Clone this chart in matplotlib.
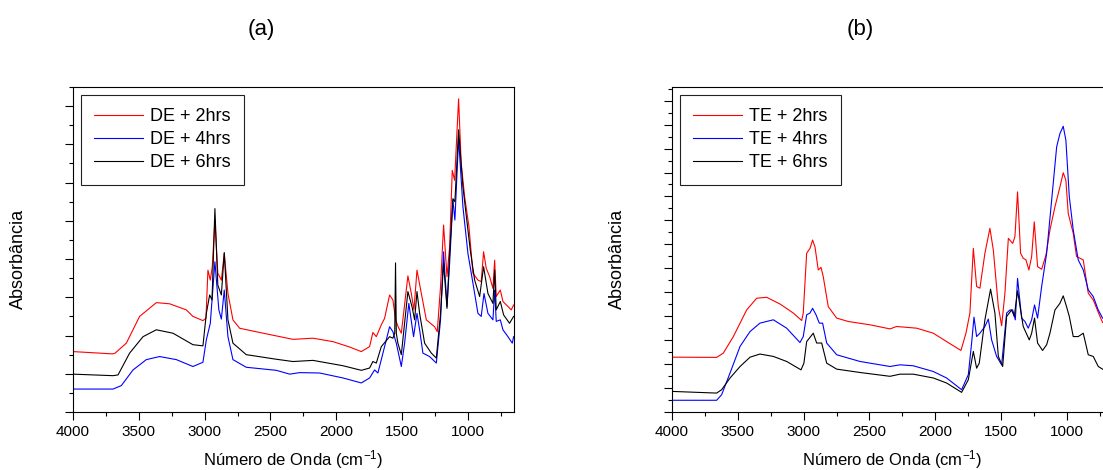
import numpy as np
import matplotlib
matplotlib.use('Agg')
import matplotlib.pyplot as plt
from matplotlib.ticker import MultipleLocator

plt.rcParams['font.family'] = ['Liberation Sans', 'DejaVu Sans']
plt.rcParams['mathtext.fontset'] = 'custom'
plt.rcParams['mathtext.rm'] = 'Liberation Sans'
plt.rcParams['mathtext.default'] = 'regular'

# (a) DE spectra, wavenumber (cm-1) vs absorbance (arb. units)
de2_x = [4000, 3700, 3680, 3595, 3494, 3367, 3266, 3139, 3089, 3013, 2990, 2975, 2957, 2942, 2922,
         2900, 2873, 2851, 2823, 2785, 2734, 2582, 2329, 2177, 2025, 1899, 1810, 1747, 1722, 1696,
         1658, 1633, 1595, 1570, 1549, 1530, 1506, 1456, 1430, 1410, 1387, 1354, 1316, 1253, 1233,
         1208, 1185, 1159, 1139, 1119, 1101, 1071, 1051, 1025, 992, 962, 924, 899, 881, 861, 835,
         810, 797, 785, 754, 734, 696, 671, 653]
de2_y = [1.58, 1.52, 1.54, 1.80, 2.50, 2.86, 2.83, 2.67, 2.50, 2.39, 2.45, 3.71, 3.45, 3.80, 5.02,
         3.63, 3.45, 4.15, 3.10, 2.41, 2.19, 2.08, 1.90, 1.93, 1.84, 1.70, 1.58, 1.71, 2.08, 1.97,
         2.28, 2.45, 3.06, 2.93, 2.41, 2.23, 2.06, 3.56, 3.10, 2.67, 3.71, 3.10, 2.41, 2.23, 2.10,
         3.28, 4.89, 3.54, 4.32, 6.32, 6.06, 8.19, 6.50, 5.63, 4.84, 3.63, 3.45, 3.41, 4.19, 3.76, 3.54,
         3.23, 3.97, 3.02, 3.19, 2.89, 2.76, 2.67, 2.80]

de4_x = [4000, 3696, 3633, 3544, 3443, 3342, 3215, 3089, 3013, 2987, 2957, 2922, 2892, 2873, 2851,
         2823, 2785, 2684, 2456, 2354, 2278, 2126, 1949, 1810, 1747, 1709, 1684, 1658, 1595, 1570,
         1544, 1506, 1481, 1449, 1413, 1387, 1367, 1342, 1291, 1240, 1208, 1185, 1159, 1139, 1114,
         1099, 1071, 1038, 1000, 962, 924, 899, 878, 848, 810, 797, 785, 754, 734, 696, 663, 653]
de4_y = [0.60, 0.60, 0.69, 1.10, 1.37, 1.45, 1.37, 1.19, 1.30, 1.89, 2.32, 3.93, 2.67, 2.43, 3.19,
         1.97, 1.37, 1.17, 1.09, 0.99, 1.03, 1.02, 0.89, 0.76, 0.89, 1.10, 1.02, 1.37, 2.23, 2.10,
         1.80, 1.19, 1.80, 2.84, 1.97, 2.58, 2.15, 1.54, 1.45, 1.28, 2.41, 4.19, 2.76, 3.89, 5.54,
         5.02, 7.15, 5.37, 4.15, 3.37, 2.58, 2.50, 3.10, 2.58, 2.41, 3.19, 2.37, 2.41, 2.15, 1.97, 1.80, 1.97]

de6_x = [4000, 3696, 3658, 3570, 3468, 3367, 3240, 3089, 3013, 2987, 2962, 2944, 2922, 2900, 2873,
         2851, 2823, 2785, 2684, 2456, 2329, 2177, 1949, 1810, 1747, 1722, 1696, 1658, 1595, 1570,
         1556, 1550, 1544, 1532, 1506, 1456, 1425, 1405, 1387, 1367, 1329, 1278, 1240, 1208, 1185,
         1159, 1139, 1114, 1099, 1071, 1038, 1000, 982, 949, 911, 881, 848, 810, 797, 785, 754, 729,
         684, 653]
de6_y = [0.99, 0.95, 0.97, 1.54, 1.97, 2.15, 2.06, 1.76, 1.73, 2.58, 3.06, 2.93, 5.32, 3.32, 3.06,
         4.17, 2.41, 1.80, 1.50, 1.38, 1.32, 1.35, 1.21, 1.09, 1.15, 1.32, 1.28, 1.71, 1.97, 1.93,
         2.06, 3.90, 2.06, 1.80, 1.50, 3.15, 2.76, 2.41, 3.15, 2.58, 1.80, 1.54, 1.41, 2.58, 3.89,
         2.71, 4.15, 5.58, 5.50, 7.38, 5.89, 4.76, 4.23, 3.45, 3.02, 3.80, 3.10, 2.84, 3.71, 2.67, 2.89, 2.54,
         2.32, 2.50]

# (b) TE spectra
te2_x = [4000, 3661, 3610, 3534, 3433, 3357, 3281, 3180, 3078, 3015, 3003, 2977, 2952, 2932, 2914,
         2889, 2868, 2851, 2813, 2749, 2661, 2496, 2344, 2294, 2142, 2015, 1914, 1805, 1767, 1737,
         1711, 1686, 1661, 1623, 1585, 1559, 1521, 1496, 1471, 1445, 1412, 1395, 1375, 1352, 1332,
         1311, 1289, 1268, 1248, 1223, 1192, 1159, 1129, 1091, 1053, 1028, 1008, 990, 952, 927, 876,
         838, 800, 749, 729]
te2_y = [2.29, 2.28, 2.46, 3.15, 4.26, 4.75, 4.79, 4.51, 4.13, 3.82, 4.13, 6.63, 6.83, 7.18, 6.90,
         5.93, 6.04, 5.65, 4.40, 3.92, 3.78, 3.64, 3.47, 3.57, 3.50, 3.29, 2.94, 2.57, 3.29, 4.13,
         6.83, 5.24, 5.17, 6.63, 7.67, 6.76, 4.40, 3.60, 4.96, 7.25, 7.04, 7.32, 9.19, 6.63, 6.42,
         6.35, 5.93, 6.49, 7.94, 6.07, 5.96, 6.56, 7.60, 8.57, 9.40, 9.99, 9.68, 8.29, 7.46, 6.49, 6.35,
         4.96, 4.68, 3.99, 3.74]

te4_x = [4000, 3661, 3623, 3559, 3483, 3407, 3332, 3230, 3129, 3028, 3003, 2977, 2952, 2932, 2906,
         2881, 2856, 2825, 2749, 2572, 2344, 2268, 2167, 2015, 1914, 1800, 1749, 1724, 1706, 1686,
         1661, 1623, 1597, 1572, 1534, 1496, 1458, 1433, 1412, 1392, 1375, 1344, 1319, 1294, 1268,
         1246, 1223, 1192, 1154, 1116, 1078, 1053, 1028, 1008, 982, 952, 914, 876, 838, 800, 762, 729]
te4_y = [0.49, 0.49, 0.72, 1.63, 2.74, 3.36, 3.71, 3.85, 3.50, 2.90, 3.15, 4.06, 4.13, 4.33, 4.06,
         3.71, 3.71, 2.88, 2.39, 2.11, 1.90, 1.97, 1.93, 1.69, 1.42, 0.93, 1.56, 2.88, 3.96, 3.15,
         3.29, 3.57, 3.88, 3.01, 2.32, 1.97, 4.13, 4.26, 4.26, 3.85, 5.58, 3.92, 3.78, 3.50, 3.85,
         4.47, 3.92, 5.24, 6.63, 8.85, 11.07, 11.63, 11.93, 11.35, 8.99, 7.60, 6.35, 5.93, 5.10, 4.82, 4.26, 3.92]

te6_x = [4000, 3661, 3623, 3559, 3483, 3407, 3332, 3230, 3129, 3020, 2998, 2977, 2947, 2927, 2901,
         2863, 2825, 2749, 2572, 2344, 2268, 2167, 2015, 1914, 1800, 1749, 1711, 1686, 1666, 1623,
         1580, 1547, 1521, 1488, 1458, 1420, 1400, 1375, 1332, 1286, 1268, 1246, 1223, 1185, 1154,
         1129, 1091, 1053, 1028, 1003, 982, 952, 914, 876, 838, 800, 762, 729]
te6_y = [0.86, 0.79, 0.93, 1.42, 1.90, 2.29, 2.42, 2.32, 2.11, 1.76, 2.04, 2.94, 3.15, 3.29, 2.88,
         2.88, 2.04, 1.79, 1.65, 1.49, 1.58, 1.58, 1.42, 1.21, 0.82, 1.35, 2.53, 1.83, 2.04, 3.85,
         5.13, 4.13, 2.32, 1.90, 3.99, 4.26, 3.99, 5.06, 3.57, 3.01, 3.29, 3.92, 2.88, 2.57, 2.81,
         3.29, 4.26, 4.54, 4.85, 4.40, 3.99, 3.15, 3.15, 3.29, 2.39, 2.32, 1.90, 1.79]

W, H = 1103, 470
fig = plt.figure(figsize=(W / 100, H / 100), dpi=100)

# axes placed in pixels (left, top), right panel runs off the figure edge
ax1 = fig.add_axes([73 / W, (H - 412) / H, 441 / W, 325 / H])
ax2 = fig.add_axes([672 / W, (H - 412) / H, 441 / W, 325 / H])

panels = [
    (ax1, 'DE', [de2_x, de4_x, de6_x], [de2_y, de4_y, de6_y], 8.50),
    (ax2, 'TE', [te2_x, te4_x, te6_x], [te2_y, te4_y, te6_y], 13.57),
]
colors = ['#ff0000', '#0000ff', '#000000']
hours = ['2hrs', '4hrs', '6hrs']

for ax, name, xs, ys, ytop in panels:
    for x, y, c, h in zip(xs, ys, colors, hours):
        ax.plot(x, y, color=c, lw=0.8, label=name + ' + ' + h)
    ax.set_xlim(4000, 650)
    ax.set_ylim(0, ytop)
    ax.xaxis.set_major_locator(MultipleLocator(500))
    ax.xaxis.set_minor_locator(MultipleLocator(250))
    ax.yaxis.set_major_locator(MultipleLocator(1))
    ax.yaxis.set_minor_locator(MultipleLocator(0.5))
    ax.tick_params(which='both', direction='out', top=False, right=False, width=0.8)
    ax.tick_params(which='major', length=6, labelsize=11)
    ax.tick_params(which='minor', length=3)
    ax.tick_params(axis='y', labelleft=False)
    for s in ax.spines.values():
        s.set_linewidth(0.8)
    ax.set_xlabel('Número de Onda (cm$^{-1}$)', fontsize=12)
    ax.xaxis.set_label_coords(0.5, -0.112)
    ax.set_ylabel('Absorbância', fontsize=13)
    ax.yaxis.set_label_coords(-0.105, 0.47)
    leg = ax.legend(loc='upper left', bbox_to_anchor=(0.018, 0.976), fontsize=13,
                    handlelength=2.7, handletextpad=0.35, labelspacing=0.33,
                    borderpad=0.75, borderaxespad=0, fancybox=False, framealpha=1)
    leg.get_frame().set_edgecolor('#222222')
    leg.get_frame().set_linewidth(0.8)

fig.text(261 / W, 1 - 29 / H, '(a)', fontsize=16, ha='center', va='center')
fig.text(860 / W, 1 - 29 / H, '(b)', fontsize=16, ha='center', va='center')

fig.savefig('out.png', dpi=100)
